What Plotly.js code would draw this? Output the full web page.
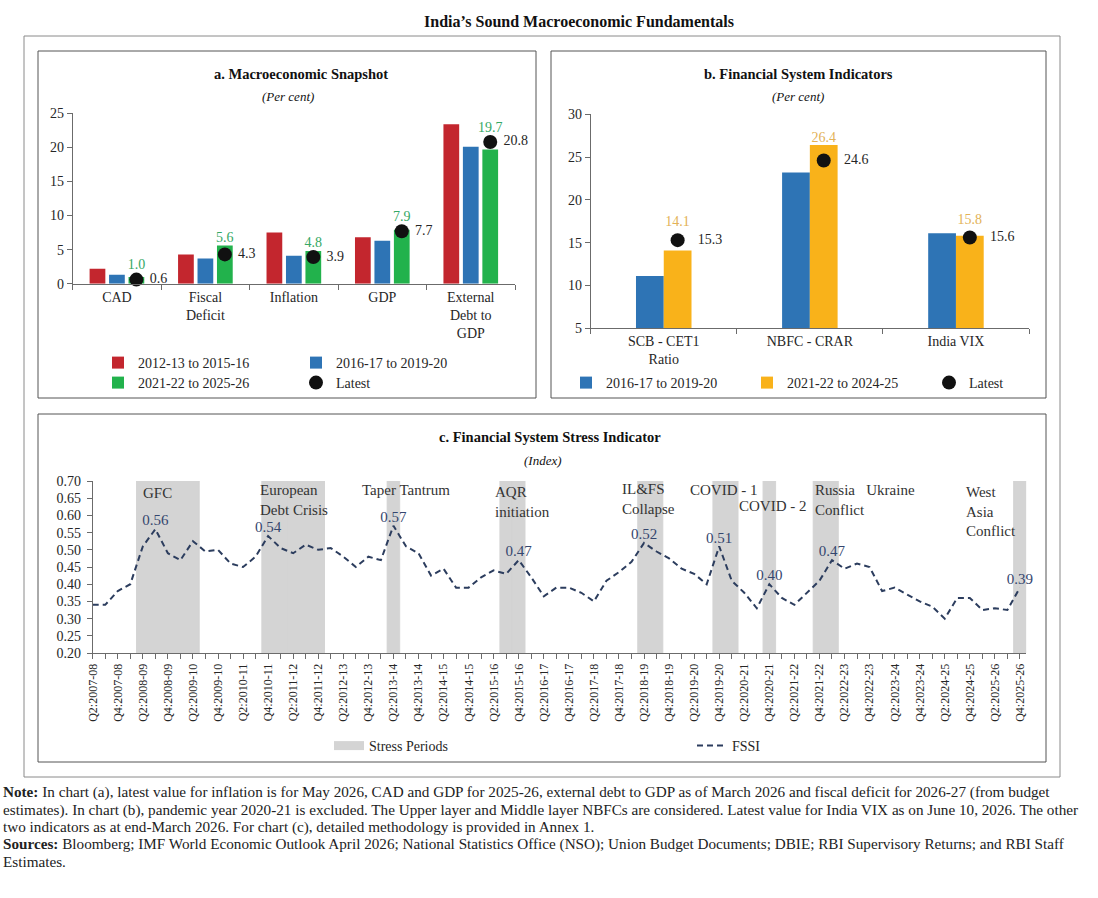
<!DOCTYPE html>
<html><head><meta charset="utf-8">
<script src="https://cdn.plot.ly/plotly-3.0.1.min.js"></script>
<style>html,body{margin:0;padding:0;background:#fff}#chart{width:1098px;height:898px}</style>
</head><body><div id="chart"></div>
<script>
// ---------- Panel a: Macroeconomic Snapshot ----------
const snapCategories = ['CAD', 'Fiscal<br>Deficit', 'Inflation', 'GDP', 'External<br>Debt to<br>GDP'];
const snapSeriesNames = ['2012-13 to 2015-16', '2016-17 to 2019-20', '2021-22 to 2025-26'];
const snap2012 = [2.2, 4.3, 7.5, 6.8, 23.4];
const snap2016 = [1.3, 3.7, 4.1, 6.3, 20.1];
const snap2021 = [1.0, 5.6, 4.8, 7.9, 19.7];
const snapLatest = [0.6, 4.3, 3.9, 7.7, 20.8];

// ---------- Panel b: Financial System Indicators ----------
const finCategories = ['SCB - CET1<br>Ratio', 'NBFC - CRAR', 'India VIX'];
const finSeriesNames = ['2016-17 to 2019-20', '2021-22 to 2024-25'];
const fin2016 = [11.1, 23.2, 16.1];
const fin2021 = [14.1, 26.4, 15.8];
const finLatest = [15.3, 24.6, 15.6];

// ---------- Panel c: Financial System Stress Indicator ----------
const firstFiscalYear = 2007;
const quarterCount = 75; // Q2:2007-08 ... Q4:2025-26
const quarters = [];
for (let i = 0; i < quarterCount; i++) {
  const fy = firstFiscalYear + Math.floor((i + 1) / 4);
  const q = ((i + 1) % 4) + 1;
  quarters.push('Q' + q + ':' + fy + '-' + String((fy + 1) % 100).padStart(2, '0'));
}
const fssi = [
  0.34, 0.34, 0.38, 0.40, 0.51, 0.56, 0.49, 0.47, 0.525, 0.495,
  0.50, 0.46, 0.45, 0.48, 0.54, 0.505, 0.49, 0.515, 0.50, 0.505,
  0.48, 0.45, 0.48, 0.47, 0.57, 0.51, 0.49, 0.425, 0.445, 0.39,
  0.39, 0.42, 0.44, 0.43, 0.47, 0.42, 0.365, 0.39, 0.39, 0.375,
  0.35, 0.41, 0.435, 0.465, 0.52, 0.495, 0.475, 0.445, 0.43, 0.40,
  0.51, 0.41, 0.375, 0.33, 0.40, 0.36, 0.34, 0.375, 0.41, 0.47,
  0.445, 0.46, 0.45, 0.38, 0.39, 0.37, 0.35, 0.335, 0.30, 0.36,
  0.36, 0.325, 0.33, 0.325, 0.39
];
const stressQuarters = [
  'Q2:2008-09','Q3:2008-09','Q4:2008-09','Q1:2009-10','Q2:2009-10',
  'Q4:2010-11','Q1:2011-12','Q2:2011-12','Q3:2011-12','Q4:2011-12',
  'Q2:2013-14',
  'Q3:2015-16','Q4:2015-16',
  'Q2:2018-19','Q3:2018-19',
  'Q4:2019-20','Q1:2020-21',
  'Q4:2020-21',
  'Q4:2021-22','Q1:2022-23',
  'Q4:2025-26'
];
const peakLabelQuarters = ['Q3:2008-09','Q4:2010-11','Q2:2013-14','Q4:2015-16','Q2:2018-19','Q4:2019-20','Q4:2020-21','Q1:2022-23','Q4:2025-26'];
const eventNames = ['GFC', 'European<br>Debt Crisis', 'Taper Tantrum', 'AQR<br>initiation', 'IL&FS<br>Collapse', 'COVID - 1', 'COVID - 2', 'Russia&nbsp;&nbsp;&nbsp;Ukraine<br>Conflict', 'West<br>Asia<br>Conflict'];
const eventAnchorQuarters = ['Q2:2008-09','Q4:2010-11','Q3:2012-13','Q2:2015-16','Q4:2017-18','Q2:2019-20','Q1:2020-21','Q4:2021-22','Q4:2024-25'];

// ---------- layout helpers ----------
const W = 1098, H = 898;
const px = x => x / W;
const py = y => 1 - y / H;
const FONT = 'Liberation Serif, Times New Roman, serif';
const RED = '#c3262e', BLUE = '#2e74b5', GREEN = '#22b24c', YELLOW = '#f9b21a';
const GREEN_TXT = '#35a865', YELLOW_TXT = '#e3b257';
const NAVY = '#2c3d5e', GRAY_BAND = '#d4d4d4', AXIS = '#6b6b6b', TXT = '#262626';

// bar geometry (category units)
const aWidth = 0.178, aSlot = 0.22;
const aOffsets = [-aSlot, 0, aSlot];
const bWidth = 0.19;
const idxA = snapCategories.map((_, i) => i);
const idxB = finCategories.map((_, i) => i);
// clearance (axis units) that keeps a value label above the "Latest" dot
const aDotPad = 1.0, bDotPad = 1.2;
const NB = '\u00A0';

const traces = [];
[snap2012, snap2016, snap2021].forEach((vals, k) => {
  traces.push({
    type: 'bar', x: idxA, y: vals, name: snapSeriesNames[k],
    xaxis: 'x', yaxis: 'y',
    width: aWidth, offset: aOffsets[k] - aWidth / 2,
    marker: {color: [RED, BLUE, GREEN][k]},
    legend: ['legend', 'legend2', 'legend3'][k]
  });
});
traces.push({
  type: 'scatter', mode: 'text', showlegend: false, xaxis: 'x', yaxis: 'y',
  x: idxA.map(i => i + aOffsets[2]), y: snap2021.map((v, i) => Math.max(v, snapLatest[i] + aDotPad)),
  text: snap2021.map(v => v.toFixed(1)), textposition: 'top center',
  textfont: {family: FONT, size: 14, color: GREEN_TXT}, cliponaxis: false
});
traces.push({
  type: 'scatter', mode: 'markers+text', name: 'Latest',
  x: idxA.map(i => i + aOffsets[2]), y: snapLatest,
  xaxis: 'x', yaxis: 'y',
  marker: {color: '#111', size: 14},
  text: snapLatest.map(v => NB + v.toFixed(1)), textposition: 'middle right',
  textfont: {family: FONT, size: 14, color: TXT},
  cliponaxis: false, legend: 'legend4'
});

[fin2016, fin2021].forEach((vals, k) => {
  traces.push({
    type: 'bar', x: idxB, y: vals, name: finSeriesNames[k],
    xaxis: 'x2', yaxis: 'y2',
    width: bWidth, offset: k === 0 ? -bWidth : 0,
    marker: {color: [BLUE, YELLOW][k]},
    legend: ['legend5', 'legend6'][k]
  });
});
traces.push({
  type: 'scatter', mode: 'text', showlegend: false, xaxis: 'x2', yaxis: 'y2',
  x: idxB.map(i => i + bWidth / 2), y: fin2021.map((v, i) => Math.max(v, finLatest[i] + bDotPad)),
  text: fin2021.map(v => v.toFixed(1)), textposition: 'top center',
  textfont: {family: FONT, size: 14, color: YELLOW_TXT}, cliponaxis: false
});
traces.push({
  type: 'scatter', mode: 'markers+text', name: 'Latest',
  x: idxB.map(i => i + bWidth / 2), y: finLatest,
  xaxis: 'x2', yaxis: 'y2',
  marker: {color: '#111', size: 14},
  text: finLatest.map(v => NB + NB + NB + v.toFixed(1)), textposition: 'middle right',
  textfont: {family: FONT, size: 14, color: TXT},
  cliponaxis: false, legend: 'legend7'
});

traces.push({
  type: 'bar', x: quarters, y: quarters.map(q => stressQuarters.includes(q) ? 0.7 : null),
  xaxis: 'x3', yaxis: 'y3', width: 1, marker: {color: GRAY_BAND, line: {color: GRAY_BAND, width: 1}},
  name: 'Stress Periods', showlegend: false
});
traces.push({
  type: 'scatter', mode: 'lines', x: [null], y: [null], xaxis: 'x3', yaxis: 'y3',
  name: 'Stress Periods', line: {color: GRAY_BAND, width: 9}, legend: 'legend8'
});
traces.push({
  type: 'scatter', mode: 'lines+text', x: quarters, y: fssi, xaxis: 'x3', yaxis: 'y3',
  name: 'FSSI', line: {color: NAVY, width: 2, dash: '6px,4px'},
  text: quarters.map((q, i) => peakLabelQuarters.includes(q) ? fssi[i].toFixed(2) : ''),
  textposition: 'top center', textfont: {family: FONT, size: 15, color: '#34466e'},
  cliponaxis: false, legend: 'legend9'
});

const tickFont = {family: FONT, size: 14, color: TXT};
const baseAxis = {showgrid: false, zeroline: false, showline: true, linecolor: AXIS, linewidth: 1,
  ticks: 'outside', ticklen: 5, tickcolor: AXIS, automargin: false, fixedrange: true, tickfont: tickFont};

const layout = {
  width: W, height: H, margin: {l: 0, r: 0, t: 0, b: 0},
  paper_bgcolor: '#fff', plot_bgcolor: 'rgba(0,0,0,0)',
  font: {family: FONT, color: TXT},
  barmode: 'overlay',
  title: {text: '<b>India’s Sound Macroeconomic Fundamentals</b>', x: px(579), xanchor: 'center',
    y: py(21), yanchor: 'middle', font: {family: FONT, size: 16, color: '#111'}},
  xaxis: Object.assign({}, baseAxis, {anchor: 'y', domain: [px(72.7), px(515)], range: [-0.5, 4.5],
    tickmode: 'array', tickvals: idxA, ticktext: snapCategories, ticks: '',
    minor: {tickmode: 'array', tickvals: [-0.5, 0.5, 1.5, 2.5, 3.5, 4.5], ticks: 'outside', ticklen: 5, tickcolor: AXIS}}),
  yaxis: Object.assign({}, baseAxis, {anchor: 'x', domain: [py(283.7), py(113.3)], range: [0, 25], dtick: 5, tick0: 0}),
  xaxis2: Object.assign({}, baseAxis, {anchor: 'y2', domain: [px(590.7), px(1029)], range: [-0.5, 2.5],
    tickmode: 'array', tickvals: idxB, ticktext: finCategories, ticks: '',
    minor: {tickmode: 'array', tickvals: [-0.5, 0.5, 1.5, 2.5], ticks: 'outside', ticklen: 5, tickcolor: AXIS}}),
  yaxis2: Object.assign({}, baseAxis, {anchor: 'x2', domain: [py(328.3), py(114.3)], range: [5, 30], dtick: 5, tick0: 5}),
  xaxis3: Object.assign({}, baseAxis, {anchor: 'y3', domain: [px(92.7), px(1026.2)], type: 'category', range: [0, 74.5],
    tickmode: 'array', tickvals: quarters, ticktext: quarters.map((q, i) => i % 2 === 0 ? q : ''),
    tickangle: -90, tickfont: {family: FONT, size: 12, color: TXT}}),
  yaxis3: Object.assign({}, baseAxis, {anchor: 'x3', domain: [py(653), py(481)], range: [0.2, 0.7], dtick: 0.05, tick0: 0.2,
    tickformat: '.2f', ticklabelstandoff: 3}),
  shapes: [
    {type: 'rect', xref: 'paper', yref: 'paper', x0: px(24), x1: px(1060), y0: py(777), y1: py(36), line: {color: '#8a8a8a', width: 1}},
    {type: 'rect', xref: 'paper', yref: 'paper', x0: px(38), x1: px(536), y0: py(398), y1: py(51), line: {color: '#555', width: 1}},
    {type: 'rect', xref: 'paper', yref: 'paper', x0: px(551), x1: px(1046), y0: py(398), y1: py(51), line: {color: '#555', width: 1}},
    {type: 'rect', xref: 'paper', yref: 'paper', x0: px(38), x1: px(1046), y0: py(762), y1: py(414), line: {color: '#555', width: 1}}
  ],
  annotations: []
};

const legendDefs = [
  ['legend', 138, 363], ['legend2', 336, 363], ['legend3', 138, 383], ['legend4', 336, 383],
  ['legend5', 606, 383], ['legend6', 787, 383], ['legend7', 969, 383],
  ['legend8', 369, 746], ['legend9', 732, 746]
];
legendDefs.forEach(([key, tx, ty]) => {
  layout[key] = {x: px(tx - 40), xanchor: 'left', y: py(ty), yanchor: 'middle', orientation: 'h',
    bgcolor: 'rgba(0,0,0,0)', borderwidth: 0, font: {family: FONT, size: 14, color: TXT}};
});

function ann(text, x, y, size, opts) {
  layout.annotations.push(Object.assign({text: text, xref: 'paper', yref: 'paper', x: px(x), y: py(y),
    xanchor: 'center', yanchor: 'middle', showarrow: false, font: {family: FONT, size: size, color: '#111'}}, opts || {}));
}
ann('<b>a. Macroeconomic Snapshot</b>', 301, 74, 14.5);
ann('<i>(Per cent)</i>', 288, 97, 13);
ann('<b>b. Financial System Indicators</b>', 798, 74, 14.5);
ann('<i>(Per cent)</i>', 798, 97, 13);
ann('<b>c. Financial System Stress Indicator</b>', 550, 437, 14.5);
ann('<i>(Index)</i>', 543, 460, 13);

// event labels in panel c
const eventStyle = [[-2, 0.665], [-10, 0.645], [4, 0.673], [-1, 0.639], [1, 0.648], [-6, 0.674], [5, 0.627], [-6, 0.645], [-6, 0.61]];
eventNames.forEach((t, k) => {
  layout.annotations.push({text: t, xref: 'x3', yref: 'y3', x: eventAnchorQuarters[k], y: eventStyle[k][1],
    xanchor: 'left', yanchor: 'middle', xshift: eventStyle[k][0], align: 'left', showarrow: false,
    font: {family: FONT, size: 15, color: '#333'}});
});

const noteLines = [
  '<b>Note:</b> In chart (a), latest value for inflation is for May 2026, CAD and GDP for 2025-26, external debt to GDP as of March 2026 and fiscal deficit for 2026-27 (from budget',
  'estimates). In chart (b), pandemic year 2020-21 is excluded. The Upper layer and Middle layer NBFCs are considered. Latest value for India VIX as on June 10, 2026. The other',
  'two indicators as at end-March 2026. For chart (c), detailed methodology is provided in Annex 1.',
  '<b>Sources:</b> Bloomberg; IMF World Economic Outlook April 2026; National Statistics Office (NSO); Union Budget Documents; DBIE; RBI Supervisory Returns; and RBI Staff',
  'Estimates.'
];
const noteY = [792, 810, 827, 844, 861];
noteLines.forEach((t, k) => ann(t, 1, noteY[k], 15.2, {xanchor: 'left', align: 'left', font: {family: FONT, size: 15.2, color: '#222'}}));

Plotly.newPlot('chart', traces, layout, {displayModeBar: false, staticPlot: true});
</script>
</body></html>
